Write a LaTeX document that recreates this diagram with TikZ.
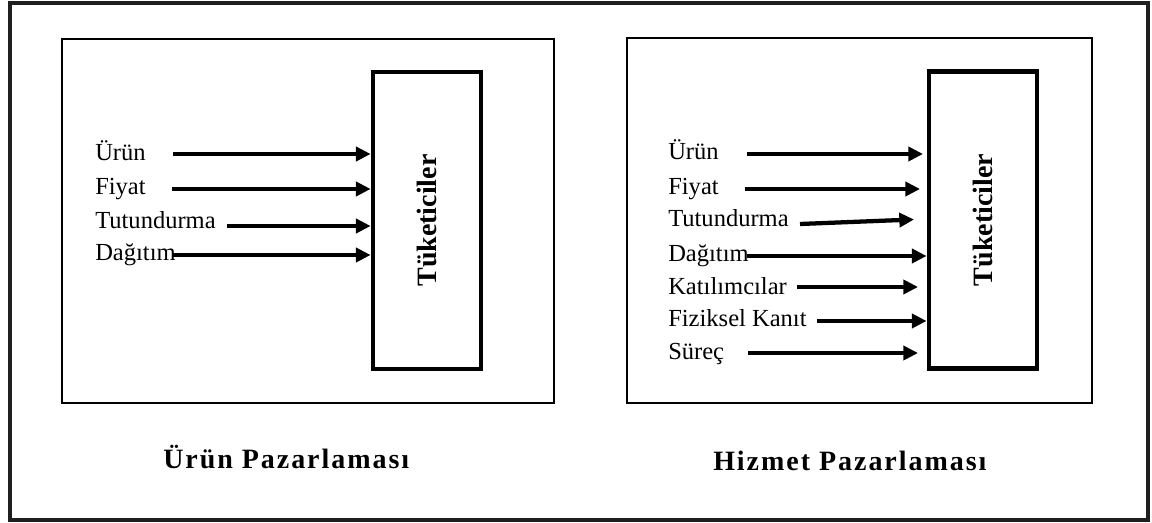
\documentclass[tikz,border=0pt]{standalone}
\usepackage{fontspec}
\setmainfont{Liberation Serif}
\newfontfamily\ttlfont[LetterSpace=7]{Liberation Serif}
\usetikzlibrary{arrows.meta}
\begin{document}
\begin{tikzpicture}[x=0.75pt,y=-0.75pt,
  lbl/.style={anchor=base west, inner sep=0, font=\fontsize{18.4}{20}\selectfont},
  arr/.style={line width=3.2pt, -{Triangle[length=11pt,width=10.5pt]}},
  consumer/.style={draw, line width=3.2pt, minimum width=81pt, minimum height=222.75pt, inner sep=0, font=\fontsize{21}{24}\selectfont\bfseries},
  panel/.style={draw, line width=1.9pt},
  frame/.style={draw=black!88, line width=3pt},
  ttl/.style={anchor=base west, inner sep=0, font=\ttlfont\fontsize{21}{24}\selectfont\bfseries}]
\useasboundingbox (0,0) rectangle (1152,523);
\draw[frame] (10,3.5) rectangle (1147.5,520);
\draw[panel] (62,39) rectangle (554,403);
\draw[panel] (627,38) rectangle (1092,403);

% left panel
\node[consumer] (tl) at (426.75,220.5) {\rotatebox{90}{Tüketiciler}};
\node[lbl] (la) at (95,161) {Ürün};
\node[lbl] (lb) at (95,195) {Fiyat};
\node[lbl] (lc) at (95,229) {Tutundurma};
\node[lbl] (ld) at (95,261) {Dağıtım};
\coordinate (las) at (173,154);
\coordinate (lbs) at (172,189);
\coordinate (lcs) at (227,226);
\coordinate (lds) at (173,255);
\draw[arr] (las) -- (las -| tl.west);
\draw[arr] (lbs) -- (lbs -| tl.west);
\draw[arr] (lcs) -- (lcs -| tl.west);
\draw[arr] (lds) -- (lds -| tl.west);

% right panel
\node[consumer] (tr) at (982.7,220) {\rotatebox{90}{Tüketiciler}};
\node[lbl] (ra) at (668,160) {Ürün};
\node[lbl] (rb) at (668,195) {Fiyat};
\node[lbl] (rc) at (668,227) {Tutundurma};
\node[lbl] (rd) at (668,262) {Dağıtım};
\node[lbl] (re) at (668,295) {Katılımcılar};
\node[lbl] (rf) at (668,327) {Fiziksel Kanıt};
\node[lbl] (rg) at (668,360) {Süreç};
\coordinate (ras) at (747,154);
\coordinate (rae) at (923,154);
\coordinate (rbs) at (745,189);
\coordinate (rbe) at (920,189);
\coordinate (rcs) at (800,224);
\coordinate (rce) at (914,219.5);
\coordinate (rds) at (747,256);
\coordinate (res) at (797,287);
\coordinate (ree) at (918,287);
\coordinate (rfs) at (817,321);
\coordinate (rgs) at (748,353);
\coordinate (rge) at (918,353);
\draw[arr] (ras) -- (rae);
\draw[arr] (rbs) -- (rbe);
\draw[arr] (rcs) -- (rce);
\draw[arr] (rds) -- (rds -| tr.west);
\draw[arr] (res) -- (ree);
\draw[arr] (rfs) -- (rfs -| tr.west);
\draw[arr] (rgs) -- (rge);

% titles
\node[ttl] (t1) at (163,469) {Ürün Pazarlaması};
\node[ttl] (t2) at (713,470) {Hizmet Pazarlaması};
\end{tikzpicture}
\end{document}
